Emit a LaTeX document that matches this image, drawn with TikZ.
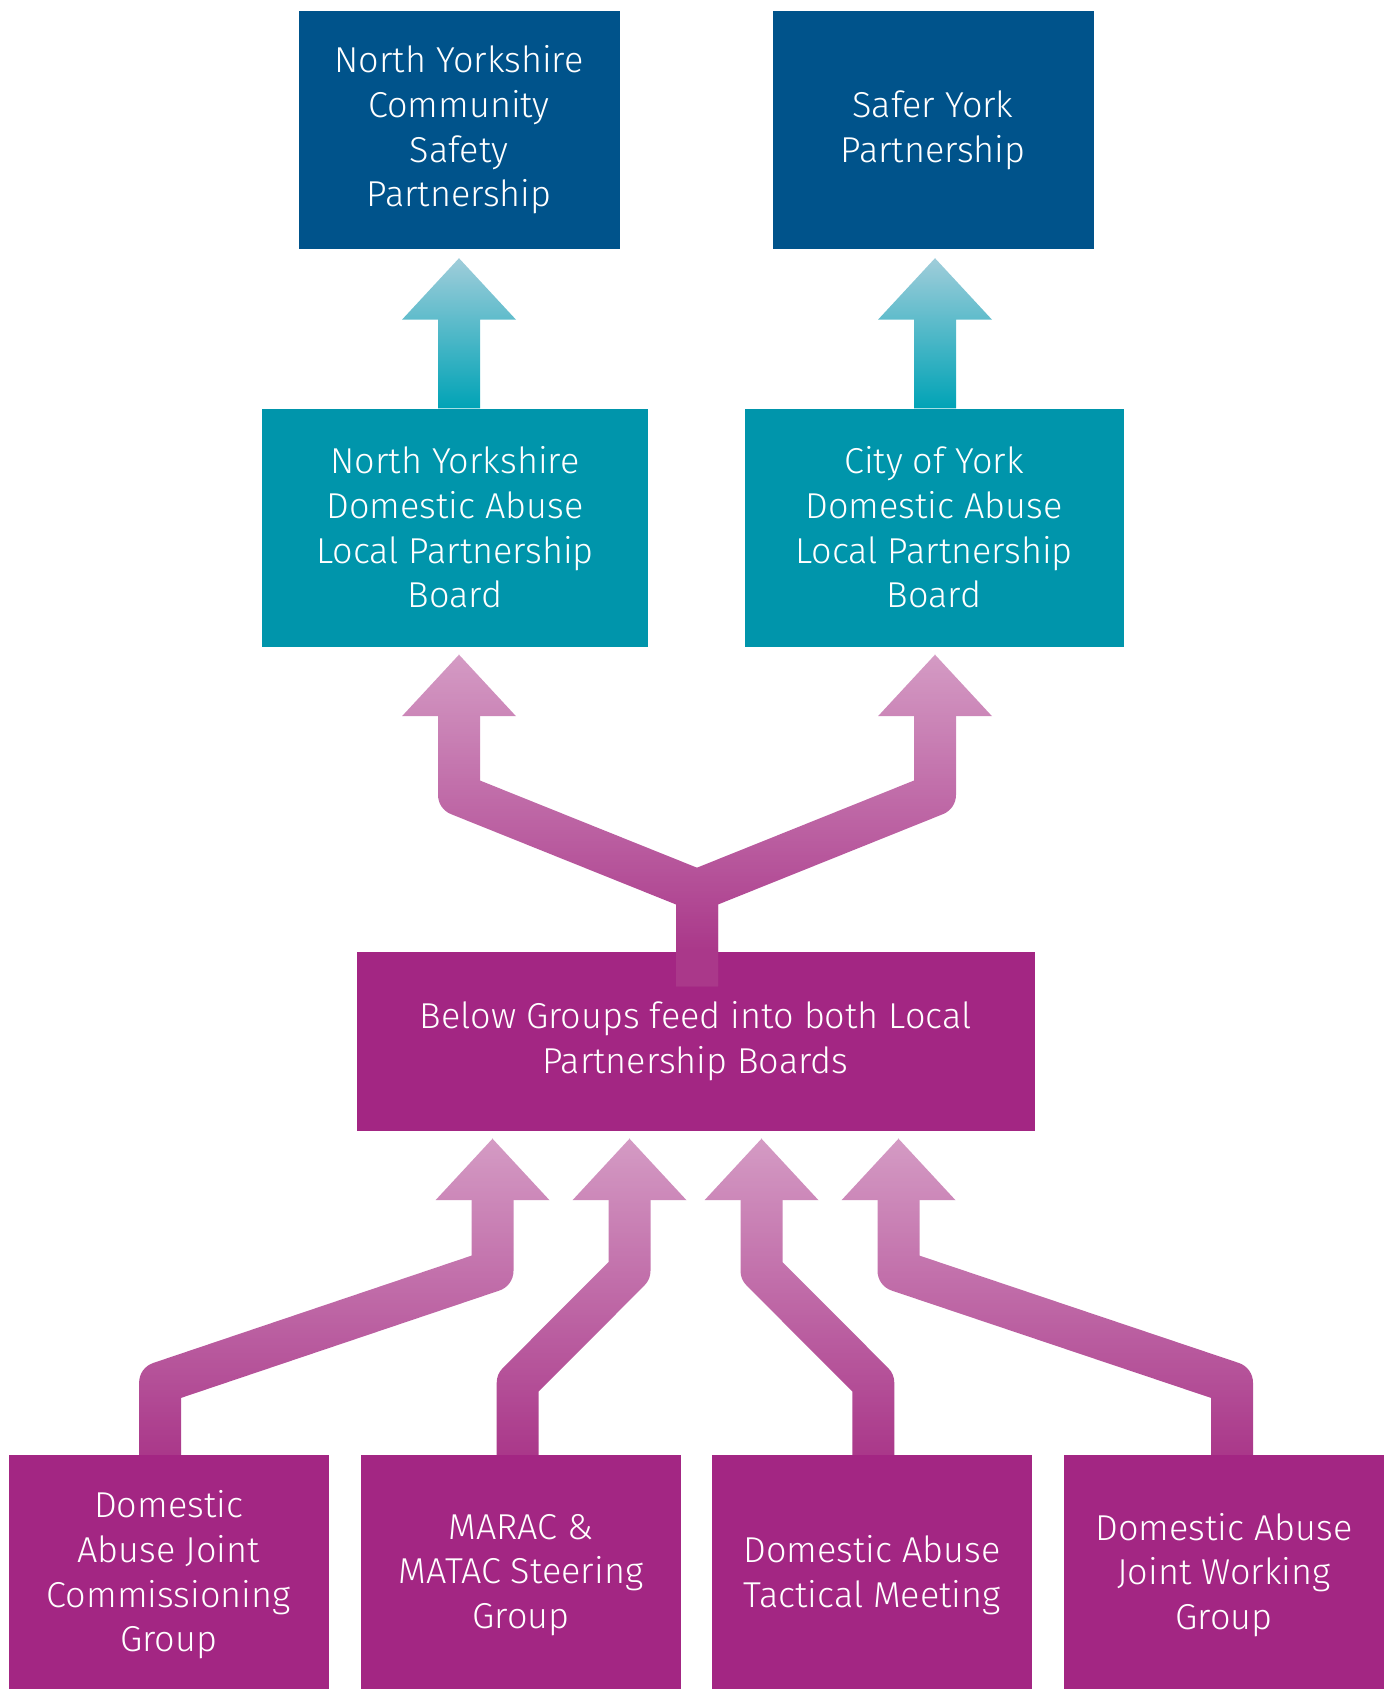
\documentclass[tikz,border=0pt]{standalone}
\usepackage{fontspec}
\setmainfont{Fira Sans Light}
\usetikzlibrary{calc,fadings}

\definecolor{nyblue}{RGB}{0,83,139}
\definecolor{dateal}{RGB}{0,149,171}
\definecolor{dapurple}{RGB}{163,38,131}
\definecolor{teallight}{RGB}{160,205,218}
\definecolor{tealshaft}{RGB}{0,163,182}
\definecolor{purplearrow}{RGB}{170,56,138}

\tikzfading[name=fadedown, top color=transparent!50, middle color=transparent!58, bottom color=transparent!100]

\tikzset{
  box/.style={rectangle, inner sep=0pt, text=white, align=center,
    font=\fontsize{36}{44.7}\selectfont},
  topbox/.style={box, fill=nyblue, minimum width=321pt, minimum height=238pt},
  lpbox/.style={box, fill=dateal, minimum height=238pt},
  groupbox/.style={box, fill=dapurple, minimum width=320pt, minimum height=240pt},
  shaft/.style={draw=purplearrow, line width=42pt, line join=round},
}

\newcommand{\tealarrow}[2]{%
  \shade[top color=teallight, bottom color=tealshaft]
    (#1) -- ++(57,61.5) -- ++(-36,0) -- ($(#1 |- #2)+(21,0)$)
    -- ($(#1 |- #2)+(-21,0)$) -- ($(#1)+(-21,61.5)$) -- ++(-36,0) -- cycle;}
\newcommand{\purplehead}[1]{\fill[purplearrow] (#1) -- ++(57,61.5) -- ++(-114,0) -- cycle;}

\begin{document}
\begin{tikzpicture}[x=1pt,y=-1pt]
    \useasboundingbox (0,0) rectangle (1391,1689);

    % partnerships
    \node[topbox] (nycsp) at (459,130) {North Yorkshire\\Community\\Safety\\Partnership};
    \node[topbox] (syp) at (933,130) {Safer York\\Partnership};

    % local partnership boards
    \node[lpbox, minimum width=386pt] (nylpb) at (455,527.5) {North Yorkshire\\Domestic Abuse\\Local Partnership\\Board};
    \node[lpbox, minimum width=379pt] (yorklpb) at (934,527.5) {City of York\\Domestic Abuse\\Local Partnership\\Board};

    % groups
    \node[groupbox] (jcg) at (168.6,1575) {Domestic\\Abuse Joint\\Commissioning\\Group};
    \node[groupbox] (marac) at (521,1575) {MARAC \&\\MATAC Steering\\Group};
    \node[groupbox] (tactical) at (872,1575) {Domestic Abuse\\Tactical Meeting};
    \node[groupbox] (jwg) at (1224,1575) {Domestic Abuse\\Joint Working\\Group};

    % arrow tips
    \coordinate (tipA) at ($(nycsp.south)+(0,9)$);
    \coordinate (tipB) at ($(syp.south)+(2,9)$);
    \coordinate (upA) at ($(tipA |- nylpb.south)+(0,8)$);
    \coordinate (upB) at ($(tipB |- yorklpb.south)+(0,8)$);

    \tealarrow{tipA}{nylpb.north}
    \tealarrow{tipB}{yorklpb.north}

    % feed box and the fork
    \node[box, fill=dapurple, minimum width=678pt, minimum height=179pt] (feed) at (695.5,1041) {Below Groups feed into both Local\\Partnership Boards};
    \coordinate (fork) at ($(feed.north)+(1.5,-61)$);
    \draw[shaft] ($(upA)+(0,61.5)$) -- ($(upA)+(0,140)$) -- (fork) -- ++(0,96);
    \draw[shaft] ($(upB)+(0,61.5)$) -- ($(upB)+(0,140)$) -- (fork) -- ++(0,96);
    \purplehead{upA}
    \purplehead{upB}
    \fill[white, path fading=fadedown, fit fading=true] ($(upA)+(-80,0)$) rectangle ($(upB |- feed.north)+(80,0)$);

    % groups into feed box
    \coordinate (inJ) at ($(feed.south)+(-203,8)$);
    \coordinate (inM) at ($(feed.south)+(-66,8)$);
    \coordinate (inT) at ($(feed.south)+(66,8)$);
    \coordinate (inW) at ($(feed.south)+(203,8)$);
    \draw[shaft] ($(jcg.north)+(-8.5,0)$) -- ++(0,-72) -- ($(inJ)+(0,132)$) -- ($(inJ)+(0,61.5)$);
    \draw[shaft] ($(marac.north)+(-3.3,0)$) -- ++(0,-72) -- ($(inM)+(0,132)$) -- ($(inM)+(0,61.5)$);
    \draw[shaft] ($(tactical.north)+(1.3,0)$) -- ++(0,-72) -- ($(inT)+(0,132)$) -- ($(inT)+(0,61.5)$);
    \draw[shaft] ($(jwg.north)+(8,0)$) -- ++(0,-72) -- ($(inW)+(0,132)$) -- ($(inW)+(0,61.5)$);
    \purplehead{inJ}
    \purplehead{inM}
    \purplehead{inT}
    \purplehead{inW}
    \fill[white, path fading=fadedown, fit fading=true] ($(inJ)+(-420,0)$) rectangle ($(jwg.north)+(120,0)$);

\end{tikzpicture}
\end{document}
